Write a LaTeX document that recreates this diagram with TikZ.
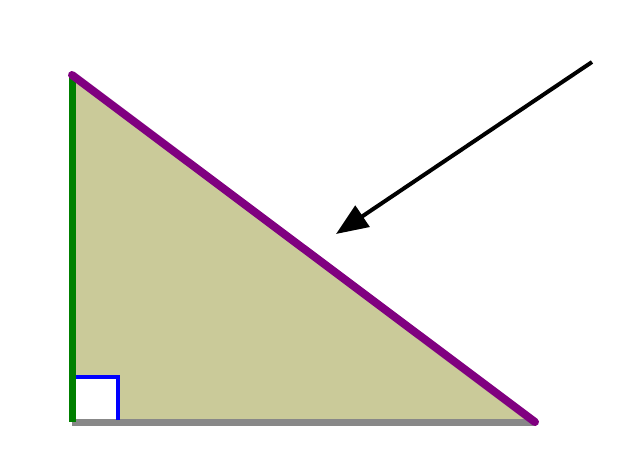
\documentclass[tikz,border=0pt]{standalone}
\usetikzlibrary{arrows.meta}
\definecolor{olivefill}{RGB}{202,202,153}
\definecolor{legpurple}{RGB}{128,0,128}
\definecolor{leggreen}{RGB}{0,128,0}
\definecolor{leggray}{RGB}{136,136,136}
\begin{document}
\begin{tikzpicture}[x=1pt,y=-1pt,
  leg/.style={line width=7pt},
  pointer/.style={line width=4pt,-{Triangle[length=32pt,width=25pt]}}]
\useasboundingbox (0,0) rectangle (622,463);
\coordinate (A) at (72,75);
\coordinate (C) at (72,422);
\coordinate (B) at (535,422);
\coordinate (start) at (592,62);
\coordinate (tip) at (336,234);

\fill[olivefill] (A) -- (C) -- (B) -- cycle;
\fill[white] (76,377) rectangle (118,420);
\draw[leg,leggray] (C) -- (B);
\draw[leg,leggreen] (A) -- (C);
\draw[line width=8pt,legpurple,line cap=round] (A) -- (B);
\draw[line width=4pt,blue] (76,377) -| (118,420);

\draw[pointer] (start) -- (tip);
\end{tikzpicture}
\end{document}
